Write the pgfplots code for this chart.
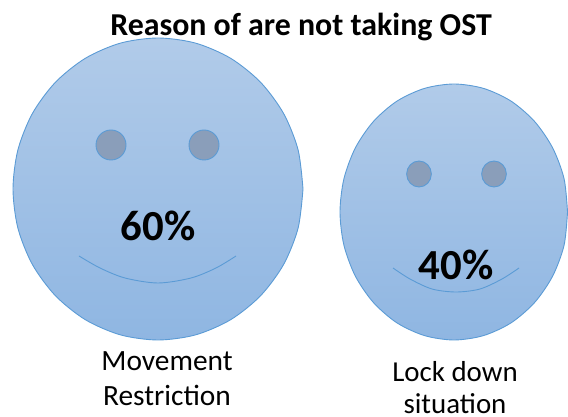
\documentclass[border=0pt]{standalone}
\usepackage{pgfplots}
\pgfplotsset{compat=1.18}
\usepackage{fontspec}
\setmainfont{Carlito}
\definecolor{edge}{HTML}{5B9BD5}
\definecolor{topc}{HTML}{B1CBE9}
\definecolor{botc}{HTML}{8FB6E2}
\definecolor{eye}{HTML}{8A9EBA}
\begin{document}
\begin{tikzpicture}
\begin{axis}[scale only axis,width=568bp,height=417bp,xmin=0,xmax=568,ymin=0,ymax=417,axis lines=none,clip=false]
\path[use as bounding box] (axis cs:0,0) rectangle (axis cs:568,417);
% faces
\addplot[smooth,draw=edge,line width=0.9pt,top color=topc,bottom color=botc,middle color=topc!50!botc] coordinates {(303,228)(298.1,267.1)(283.6,303.5)(260.5,334.8)(230.5,358.8)(195.5,373.9)(158,379)(120.5,373.9)(85.5,358.8)(55.5,334.8)(32.4,303.5)(17.9,267.1)(13,228)(17.9,188.9)(32.4,152.5)(55.5,121.2)(85.5,97.2)(120.5,82.1)(158,77)(195.5,82.1)(230.5,97.2)(260.5,121.2)(283.6,152.5)(298.1,188.9)(303,228)};
\addplot[smooth,draw=edge,line width=0.9pt,top color=topc,bottom color=botc,middle color=topc!50!botc] coordinates {(567.5,205)(564.1,238.1)(552.7,269)(534.6,295.5)(511,315.9)(483.5,328.6)(454,333)(424.5,328.6)(397,315.9)(373.4,295.5)(355.3,269)(343.9,238.1)(340,205)(343.9,171.9)(355.3,141)(373.4,114.5)(397,94.1)(424.5,81.4)(454,77)(483.5,81.4)(511,94.1)(534.6,114.5)(552.7,141)(564.1,171.9)(567.5,205)};
% eyes
\addplot[only marks,mark=*,mark size=15bp,mark options={draw=edge,fill=eye,line width=0.9pt}] coordinates {(111,272)(204,272)};
\addplot[only marks,mark=*,mark size=13bp,mark options={draw=edge,fill=eye,line width=0.9pt,xscale=0.95}] coordinates {(419,243)(494,243)};
% mouths
\addplot[smooth,draw=edge,line width=0.9pt] coordinates {(79,161)(100,149)(125,139)(158,134)(191,139)(216,149)(236,161)};
\addplot[smooth,draw=edge,line width=0.9pt] coordinates {(393,149)(410,138)(432,128)(456,125)(480,128)(502,138)(519,149)};
% texts
\node[font=\bfseries\fontsize{32}{34}\selectfont,anchor=center] at (axis cs:301,390) {Reason of are not taking OST};
\node[font=\bfseries\fontsize{43}{45}\selectfont,anchor=center] at (axis cs:158,191) {60\%};
\node[font=\bfseries\fontsize{43}{45}\selectfont,anchor=center] at (axis cs:456,152) {40\%};
\node[font=\fontsize{29.5}{35}\selectfont,align=center,anchor=center] at (axis cs:167,38) {Movement\\Restriction};
\node[font=\fontsize{29}{32}\selectfont,align=center,anchor=center,inner sep=0pt] at (axis cs:455,29) {Lock down\\situation};
\end{axis}
\end{tikzpicture}
\end{document}
